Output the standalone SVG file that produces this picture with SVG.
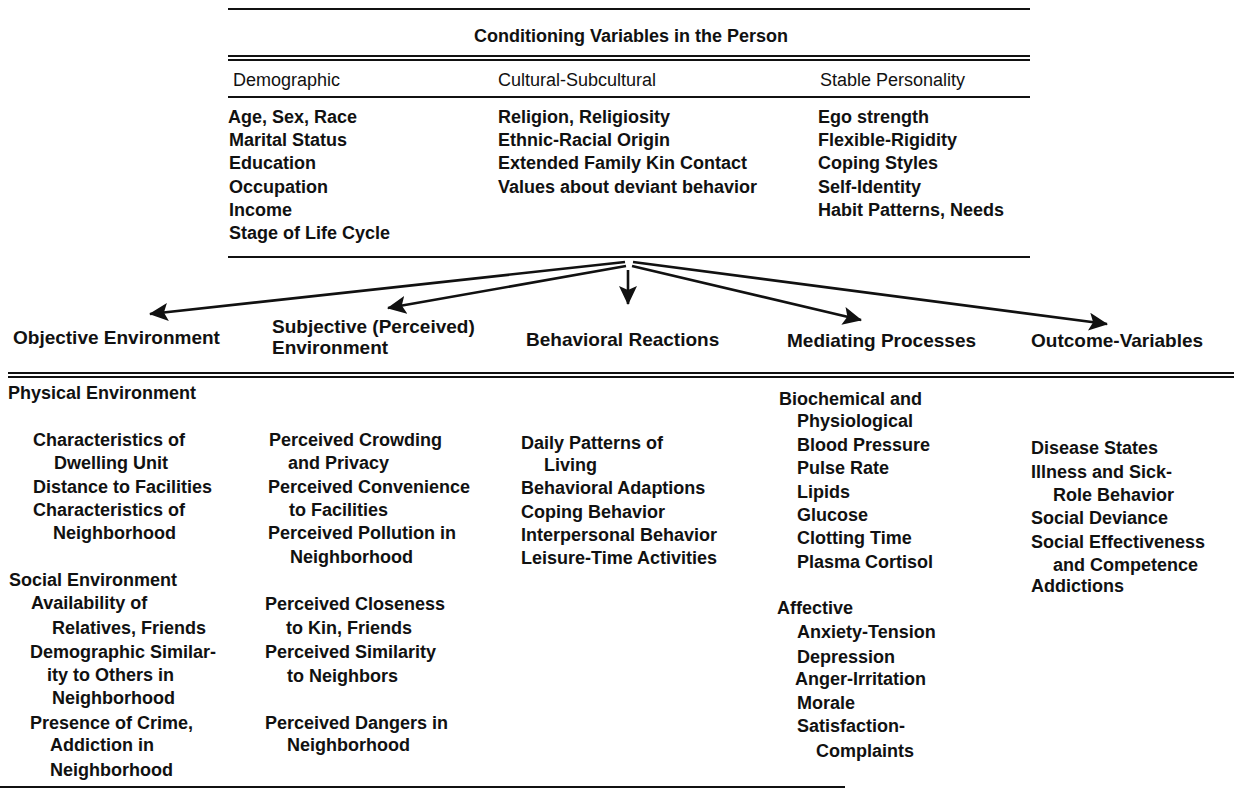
<svg xmlns="http://www.w3.org/2000/svg" width="1234" height="796" viewBox="0 0 1234 796">
<style>
  text { font-family: "Liberation Sans", Arial, sans-serif; font-size: 18px; font-weight: 700; fill: #111; }
  .title { font-size: 18px; }
  .head { font-size: 18px; font-weight: 400; }
  .cat { font-size: 19px; }
  .rule { stroke: #111; stroke-width: 2; fill: none; }
  .conn { stroke: #111; stroke-width: 2.6; fill: none; }
</style>
<defs>
  <marker id="ah" markerUnits="userSpaceOnUse" markerWidth="20" markerHeight="18" refX="18" refY="9" orient="auto">
    <path d="M0,0 L19,9 L0,18 L4,9 Z" fill="#111"/>
  </marker>
</defs>
<rect width="1234" height="796" fill="#fff"/>

<g id="rules">
  <line class="rule" x1="228" y1="9" x2="1030" y2="9"/>
  <line class="rule" x1="228" y1="56" x2="1030" y2="56"/>
  <line class="rule" x1="228" y1="60" x2="1030" y2="60" stroke-width="1.5"/>
  <line class="rule" x1="228" y1="97" x2="1030" y2="97"/>
  <line class="rule" x1="228" y1="257" x2="1030" y2="257"/>
  <line class="rule" x1="8" y1="373" x2="1234" y2="373"/>
  <line class="rule" x1="8" y1="377" x2="1234" y2="377" stroke-width="1.5"/>
  <line class="rule" x1="0" y1="787" x2="845" y2="787"/>
</g>

<g id="conditioning">
  <text class="title" x="631" y="42" text-anchor="middle">Conditioning Variables in the Person</text>
  <g id="demographic">
    <text class="head" x="233" y="86">Demographic</text>
    <text x="228" y="123">Age, Sex, Race</text>
    <text x="229" y="146">Marital Status</text>
    <text x="229" y="169">Education</text>
    <text x="229" y="193">Occupation</text>
    <text x="229" y="216">Income</text>
    <text x="229" y="239">Stage of Life Cycle</text>
  </g>
  <g id="cultural">
    <text class="head" x="498" y="86">Cultural-Subcultural</text>
    <text x="498" y="123">Religion, Religiosity</text>
    <text x="498" y="146">Ethnic-Racial Origin</text>
    <text x="498" y="169">Extended Family Kin Contact</text>
    <text x="498" y="193">Values about deviant behavior</text>
  </g>
  <g id="personality">
    <text class="head" x="820" y="86">Stable Personality</text>
    <text x="818" y="123">Ego strength</text>
    <text x="818" y="146">Flexible-Rigidity</text>
    <text x="818" y="169">Coping Styles</text>
    <text x="818" y="193">Self-Identity</text>
    <text x="818" y="216">Habit Patterns, Needs</text>
  </g>
</g>

<g id="connectors">
  <line class="conn" x1="625" y1="262" x2="150" y2="314" marker-end="url(#ah)"/>
  <line class="conn" x1="626" y1="266" x2="388" y2="308" marker-end="url(#ah)"/>
  <line class="conn" x1="628" y1="270" x2="628" y2="304" marker-end="url(#ah)"/>
  <line class="conn" x1="632" y1="266" x2="861" y2="320" marker-end="url(#ah)"/>
  <line class="conn" x1="633" y1="262" x2="1107" y2="324" marker-end="url(#ah)"/>
</g>

<g id="objective">
  <text class="cat" x="13" y="344">Objective Environment</text>
  <text x="8" y="399">Physical Environment</text>
  <text x="33" y="446">Characteristics of</text>
  <text x="54" y="469">Dwelling Unit</text>
  <text x="33" y="493">Distance to Facilities</text>
  <text x="33" y="516">Characteristics of</text>
  <text x="53" y="539">Neighborhood</text>
  <text x="9" y="586">Social Environment</text>
  <text x="31" y="609">Availability of</text>
  <text x="52" y="634">Relatives, Friends</text>
  <text x="30" y="658">Demographic Similar-</text>
  <text x="47" y="681">ity to Others in</text>
  <text x="52" y="704">Neighborhood</text>
  <text x="30" y="729">Presence of Crime,</text>
  <text x="50" y="751">Addiction in</text>
  <text x="50" y="776">Neighborhood</text>
</g>

<g id="subjective">
  <text class="cat" x="272" y="333">Subjective (Perceived)</text>
  <text class="cat" x="272" y="354">Environment</text>
  <text x="269" y="446">Perceived Crowding</text>
  <text x="288" y="469">and Privacy</text>
  <text x="268" y="493">Perceived Convenience</text>
  <text x="289" y="516">to Facilities</text>
  <text x="268" y="539">Perceived Pollution in</text>
  <text x="290" y="563">Neighborhood</text>
  <text x="265" y="610">Perceived Closeness</text>
  <text x="286" y="634">to Kin, Friends</text>
  <text x="265" y="658">Perceived Similarity</text>
  <text x="287" y="682">to Neighbors</text>
  <text x="265" y="729">Perceived Dangers in</text>
  <text x="287" y="751">Neighborhood</text>
</g>

<g id="behavioral">
  <text class="cat" x="526" y="346">Behavioral Reactions</text>
  <text x="521" y="449">Daily Patterns of</text>
  <text x="544" y="471">Living</text>
  <text x="521" y="494">Behavioral Adaptions</text>
  <text x="521" y="518">Coping Behavior</text>
  <text x="521" y="541">Interpersonal Behavior</text>
  <text x="521" y="564">Leisure-Time Activities</text>
</g>

<g id="mediating">
  <text class="cat" x="787" y="347">Mediating Processes</text>
  <text x="779" y="405">Biochemical and</text>
  <text x="797" y="427">Physiological</text>
  <text x="797" y="451">Blood Pressure</text>
  <text x="797" y="474">Pulse Rate</text>
  <text x="797" y="498">Lipids</text>
  <text x="797" y="521">Glucose</text>
  <text x="797" y="544">Clotting Time</text>
  <text x="797" y="568">Plasma Cortisol</text>
  <text x="777" y="614">Affective</text>
  <text x="797" y="638">Anxiety-Tension</text>
  <text x="797" y="663">Depression</text>
  <text x="795" y="685">Anger-Irritation</text>
  <text x="797" y="709">Morale</text>
  <text x="797" y="732">Satisfaction-</text>
  <text x="816" y="757">Complaints</text>
</g>

<g id="outcome">
  <text class="cat" x="1031" y="347">Outcome-Variables</text>
  <text x="1031" y="454">Disease States</text>
  <text x="1031" y="478">Illness and Sick-</text>
  <text x="1053" y="501">Role Behavior</text>
  <text x="1031" y="524">Social Deviance</text>
  <text x="1031" y="548">Social Effectiveness</text>
  <text x="1053" y="571">and Competence</text>
  <text x="1031" y="592">Addictions</text>
</g>
</svg>
